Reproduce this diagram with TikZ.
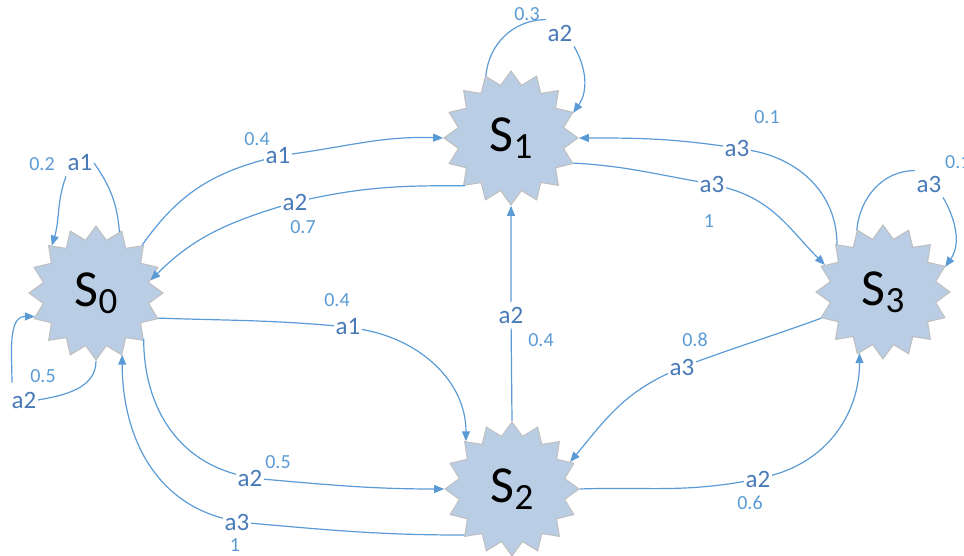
\documentclass[tikz,border=0pt]{standalone}
\usepackage{fontspec}
\setmainfont{Carlito}
\usetikzlibrary{shapes.geometric,arrows.meta}
\definecolor{edgec}{RGB}{91,155,213}
\definecolor{labc}{RGB}{72,122,184}
\definecolor{probc}{RGB}{91,155,213}
\definecolor{starfill}{RGB}{185,205,229}
\definecolor{starline}{RGB}{191,191,191}
\newcommand{\stname}[1]{\fontsize{52}{52}\selectfont S\raisebox{-7pt}{\fontsize{37}{37}\selectfont #1}}
\begin{document}
\begin{tikzpicture}[x=1pt,y=1pt,
  stnode/.style={star, star points=16, star point ratio=1.25, minimum size=134pt, inner sep=0pt, fill=starfill, draw=starline, line width=1pt},
  lab/.style={text=labc, font=\fontsize{25}{25}\selectfont, inner xsep=1.5pt, inner ysep=5pt},
  prob/.style={text=probc, font=\fontsize{20}{20}\selectfont, inner sep=0pt},
  conn/.style={draw=edgec, line width=1.2pt, -{Triangle[length=10pt,width=8pt]}},
  seg/.style={draw=edgec, line width=1.2pt},
]
\useasboundingbox (0,0) rectangle (964,556);
% states
\node[stnode] (S0) at (96,263) {\stname{0}};
\node[stnode] (S1) at (511,418) {\stname{1}};
\node[stnode] (S2) at (512,67) {\stname{2}};
\node[stnode] (S3) at (883,264) {\stname{3}};
% action labels
\node[lab] (L1) at (80,393) {a1};
\node[lab] (L2) at (24,156) {a2};
\node[lab] (L3) at (278,400) {a1};
\node[lab] (L4) at (295,354) {a2};
\node[lab] (L5) at (348,229) {a1};
\node[lab] (L6) at (250,78) {a2};
\node[lab] (L7) at (237,34) {a3};
\node[lab] (L8) at (511,241) {a2};
\node[lab] (L9) at (712,372) {a3};
\node[lab] (L10) at (737,408) {a3};
\node[lab] (L11) at (929,372) {a3};
\node[lab] (L12) at (560,523) {a2};
\node[lab] (L13) at (682,189) {a3};
\node[lab] (L14) at (758,77) {a2};
% probabilities
\node[prob] (P1) at (42,392) {0.2};
\node[prob] (P2) at (43,180) {0.5};
\node[prob] (P3) at (257,417) {0.4};
\node[prob] (P4) at (303,329) {0.7};
\node[prob] (P5) at (337,256) {0.4};
\node[prob] (P6) at (278,94) {0.5};
\node[prob] (P7) at (235,11) {1};
\node[prob] (P8) at (541,216) {0.4};
\node[prob] (P9) at (709,335) {1};
\node[prob] (P10) at (767,439) {0.1};
\node[prob,anchor=west] (P11) at (945,394) {0.1};
\node[prob] (P12) at (527,542) {0.3};
\node[prob] (P13) at (695,216) {0.8};
\node[prob] (P14) at (750,53) {0.6};
% connectors
\draw[seg] (S0.69) to[out=95,in=-55] (L1.east);
\draw[conn] (L1.south west) to[out=-110,in=73] (S0.133);
\draw[seg] (S0.270) to[out=270,in=10] (L2.east);
\draw[conn] ([shift={(2pt,4pt)}]L2.north west) to[out=90,in=180] (S0.201);
\draw[conn] (S0.46) to[out=55,in=195] (L3) to[out=8,in=178] (S1.180);
\draw[conn] (S1.226) to[out=180,in=12] (L4) to[out=197,in=45] (S0.13);
\draw[conn] (S0.-22) to[out=-2,in=175] (L5) to[out=-10,in=90] (S2.134);
\draw[conn] (S0.-44) to[out=270,in=165] (L6) to[out=-5,in=180] (S2.180);
\draw[conn] (S2.224) to[out=180,in=-5] (L7) to[out=165,in=270] (S0.-67);
\draw[conn] (S2.90) -- (L8) -- (S1.270);
\draw[conn] (S1.-22) to[out=-3,in=170] (L9) to[out=-15,in=135] (S3.155);
\draw[conn] (S3.134) to[out=90,in=-10] (L10) to[out=172,in=0] (S1.0);
\draw[seg] (S3.113) to[out=85,in=180] (L11.north west);
\draw[conn] (L11.south east) to[out=-60,in=55] (S3.22);
\draw[seg] (S1.112) to[out=85,in=180] (L12.north west);
\draw[conn] (L12.south east) to[out=-60,in=55] (S1.22);
\draw[conn] (S3.203) to[out=200,in=20] (L13) to[out=205,in=50] (S2.25);
\draw[conn] (S2.0) to[out=2,in=190] (L14) to[out=15,in=270] (S3.249);
\end{tikzpicture}
\end{document}
